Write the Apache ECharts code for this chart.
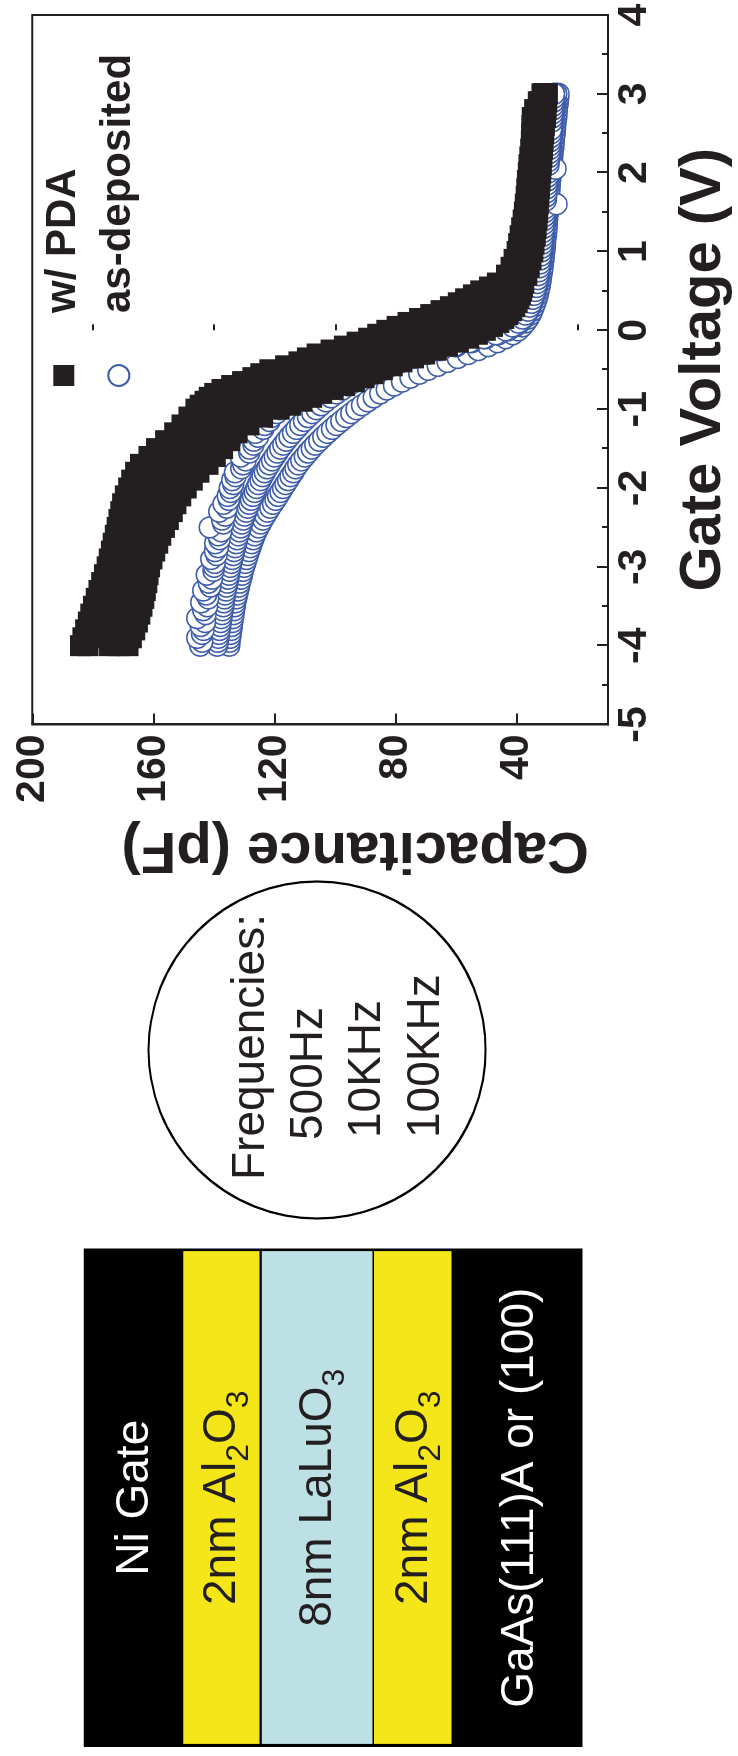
<!DOCTYPE html>
<html><head><meta charset="utf-8">
<script src="https://cdn.jsdelivr.net/npm/echarts@6/dist/echarts.min.js"></script>
<style>
html,body{margin:0;padding:0;background:#fff;width:738px;height:1756px;overflow:hidden;position:relative}
#chart{position:absolute;left:0;top:0;width:1756px;height:738px;transform-origin:0 0;transform:translate(0px,1756px) rotate(-90deg)}
</style></head><body>
<div id="chart"></div>
<script>
// ---------------- data ----------------
// w/ PDA (filled squares): gate voltage sweep and capacitance (pF) traces read across the black band
const voltSquares = [-4.0,-3.9,-3.8,-3.7,-3.6,-3.5,-3.4,-3.3,-3.2,-3.1,-3.0,-2.9,-2.8,-2.7,-2.6,-2.5,-2.4,-2.3,-2.2,-2.1,-2.0,-1.9,-1.8,-1.7,-1.6,-1.5,-1.4,-1.3,-1.2,-1.1,
-1.0,-0.95,-0.9,-0.85,-0.8,-0.75,-0.7,-0.65,-0.6,-0.55,-0.5,-0.45,-0.4,-0.35,-0.3,-0.25,-0.2,-0.15,-0.1,-0.05,0,0.05,0.1,0.15,0.2,0.25,0.3,0.35,0.4,0.45,0.5,0.55,0.6,
0.7,0.8,0.9,1.0,1.1,1.2,1.3,1.4,1.5,1.6,1.7,1.8,1.9,2.0,2.1,2.2,2.3,2.4,2.5,2.6,2.7,2.8,2.9,3.0];
const pda500Hz = [184.1,183.3,182.4,181.5,180.7,179.8,178.9,178.0,177.1,176.2,175.3,174.6,173.9,173.3,172.6,172.0,171.4,170.8,170.2,169.3,168.2,167.2,165.9,164.3,161.5,159.0,156.0,153.0,150.6,148.3,
146.0,144.6,143.0,141.6,139.8,137.4,134.2,130.6,127.2,124.6,121.6,116.4,112.0,109.2,106.0,101.4,97.0,92.8,89.0,86.0,83.0,79.6,76.0,72.2,68.5,65.1,62.0,59.4,57.0,54.4,52.0,49.1,46.5,
43.5,42.0,41.0,40.0,39.5,39.0,38.5,38.0,37.6,37.3,37.0,36.8,36.6,36.3,36.1,35.8,35.5,35.3,35.2,35.1,35.0,34.2,33.0,31.8];
const pda500HzB = [181.6,180.5,179.2,178.1,177.0,176.0,175.1,174.2,173.3,172.4,171.5,170.7,170.0,169.3,168.6,167.8,167.1,166.3,165.5,164.6,163.5,162.4,161.0,159.5,156.8,154.3,151.5,148.5,145.5,142.6,
139.2,137.2,135.0,132.8,130.4,127.5,124.3,121.0,117.6,114.5,111.3,107.2,103.0,99.6,96.2,92.1,88.0,84.1,80.2,77.0,74.0,70.6,67.2,63.9,60.7,57.8,55.2,53.0,51.0,49.1,47.2,45.3,43.6,
41.5,40.3,39.4,38.6,38.1,37.7,37.2,36.8,36.5,36.2,35.9,35.7,35.5,35.2,35.0,34.7,34.5,34.3,34.1,34.0,33.8,33.2,32.3,31.4];
const pda10kHz = [174.5,173.8,173.0,172.2,171.5,170.8,170.1,169.4,168.7,168.0,167.3,166.6,165.9,165.2,164.5,163.7,162.8,161.9,161.0,160.0,158.9,157.7,156.3,154.8,152.2,149.6,147.0,144.0,140.6,137.0,
132.5,129.8,127.0,124.0,121.0,117.8,114.5,111.2,108.0,104.5,101.0,97.5,94.0,90.2,86.5,82.7,79.0,75.2,71.5,68.2,65.0,61.7,58.5,55.7,53.0,50.7,48.5,46.7,45.0,43.7,42.5,41.6,40.8,
39.5,38.6,37.9,37.3,36.8,36.4,36.0,35.7,35.4,35.1,34.9,34.6,34.4,34.2,34.0,33.7,33.5,33.3,33.1,32.9,32.6,32.2,31.6,31.0];
const pda100kHzB = [171.4,170.5,169.6,168.7,168.0,167.3,166.6,166.0,165.4,164.9,164.3,163.5,162.7,161.9,161.0,160.0,158.9,157.8,156.8,155.5,154.0,152.4,150.6,148.4,145.9,143.4,140.9,138.2,134.5,130.5,
125.5,122.3,119.0,115.8,112.7,109.2,105.7,102.4,99.2,96.0,92.7,89.3,86.0,82.2,78.5,74.7,71.0,67.3,63.7,60.6,57.7,54.9,52.2,50.0,48.0,46.2,44.6,43.3,42.2,41.3,40.5,39.9,39.3,
38.2,37.3,36.6,36.0,35.6,35.2,34.8,34.5,34.3,34.0,33.8,33.6,33.4,33.2,33.0,32.7,32.5,32.3,32.1,31.9,31.6,31.3,30.9,30.5];
const pda100kHz = [168.4,167.3,166.2,165.3,164.5,163.8,163.2,162.7,162.2,161.8,161.3,160.5,159.6,158.6,157.6,156.4,155.1,153.8,152.6,151.0,149.2,147.2,145.0,142.0,139.6,137.2,134.8,132.4,128.5,124.0,
118.5,114.8,111.0,107.8,104.5,100.7,97.0,93.7,90.5,87.5,84.5,81.2,78.0,74.2,70.5,66.7,63.0,59.4,56.0,53.1,50.5,48.1,46.0,44.4,43.0,41.8,40.8,40.0,39.4,38.9,38.5,38.2,37.8,
36.8,36.0,35.4,34.8,34.4,34.0,33.7,33.4,33.2,33.0,32.8,32.6,32.4,32.2,32.0,31.8,31.6,31.4,31.2,31.0,30.6,30.4,30.2,30.0];

// as-deposited (open circles)
const voltCircles = [-4,-3.95,-3.9,-3.85,-3.8,-3.75,-3.7,-3.65,-3.6,-3.55,-3.5,-3.45,-3.4,-3.35,-3.3,-3.25,-3.2,-3.15,-3.1,-3.05,-3,-2.95,-2.9,-2.85,-2.8,-2.75,-2.7,-2.65,-2.6,-2.55,-2.5,-2.45,-2.4,-2.35,-2.3,-2.25,-2.2,-2.15,-2.1,-2.05,-2,-1.95,-1.9,-1.85,-1.8,-1.75,-1.7,-1.65,-1.6,-1.55,-1.5,-1.45,-1.4,-1.35,-1.3,-1.25,-1.2,-1.15,-1.1,-1.05,-1,-0.95,-0.9,-0.85,-0.8,-0.75,-0.7,-0.65,-0.6,-0.55,-0.5,-0.45,-0.4,-0.35,-0.3,-0.25,-0.2,-0.15,-0.1,-0.05,0,0.05,0.1,0.15,0.2,0.25,0.3,0.35,0.4,0.45,0.5,0.55,0.6,0.65,0.7,0.75,0.8,0.85,0.9,0.95,1,1.05,1.1,1.15,1.2,1.25,1.3,1.35,1.4,1.45,1.5,1.55,1.6,1.65,1.7,1.75,1.8,1.85,1.9,1.95,2,2.05,2.1,2.15,2.2,2.25,2.3,2.35,2.4,2.45,2.5,2.55,2.6,2.65,2.7,2.75,2.8,2.85,2.9,2.95,3];
const asd500Hz = [144.6,143.9,145.6,144.0,143.5,144.4,143.0,145.6,142.8,143.6,
142.3,144.2,141.9,142.6,143.6,141.2,141.8,140.7,142.4,140.2,
140.0,139.8,140.9,139.2,139.7,138.7,139.6,138.2,138.6,137.6,
141.4,137.0,137.4,136.4,138.3,135.8,136.9,135.1,135.5,134.5,
134.8,133.7,134.0,132.9,133.1,131.0,130.4,129.6,131.2,128.4,
128.3,127.0,126.9,125.5,126.4,123.8,123.3,121.7,121.0,119.3,
118.2,116.4,114.8,112.6,110.4,107.8,104.8,101.5,98.0,94.2,
90.0,85.6,81.0,76.0,71.0,65.8,60.6,55.6,51.0,47.0,
43.8,41.5,39.6,38.2,37.2,36.4,35.8,35.2,34.8,34.4,
34.0,33.7,33.4,33.2,33.0,32.8,32.6,32.4,32.3,32.1,
32.0,31.8,31.7,31.6,31.4,31.3,31.2,31.1,31.0,30.9,
30.8,30.7,27.0,30.5,30.4,30.3,30.2,30.1,30.0,29.9,
29.8,27.3,29.6,29.5,29.4,29.3,29.2,29.1,29.0,28.9,
28.8,28.7,33.8,28.5,28.4,28.3,28.2,28.1,28.0,27.9,
27.8];
const asd10kHz = [139.0,138.8,138.6,138.4,138.2,138.0,137.8,137.6,137.4,137.2,
137.0,136.8,136.6,136.4,136.1,135.9,135.6,135.4,135.1,134.9,
134.6,134.3,134.0,133.7,133.4,133.1,132.7,132.4,132.0,131.6,
131.2,130.8,130.4,129.9,129.4,128.9,128.4,127.8,127.2,126.6,
126.0,125.4,124.7,124.0,123.3,122.5,121.7,120.9,120.0,119.1,
118.2,117.2,116.2,115.1,114.0,112.8,111.6,110.3,109.0,107.6,
106.2,104.7,103.1,101.4,99.6,97.7,95.6,93.3,90.8,88.1,
85.1,81.8,78.2,74.2,69.8,65.0,60.0,55.0,50.3,46.2,
43.0,40.7,39.0,37.8,36.9,36.2,35.6,35.1,34.6,34.2,
33.8,33.5,33.2,33.0,32.8,32.6,32.4,32.2,32.1,31.9,
31.8,31.6,31.5,31.4,31.2,31.1,31.0,30.9,30.8,30.7,
30.6,30.5,30.4,30.3,30.2,30.1,30.0,29.9,29.8,29.7,
29.6,29.5,29.4,29.3,29.1,29.0,28.9,28.8,28.7,28.6,
28.4,28.3,28.2,28.1,27.9,27.8,27.7,27.5,27.4,27.2,
27.1];
const asd100kHz = [135.0,134.9,134.7,134.5,134.3,134.2,134.0,133.8,133.6,133.4,
133.2,133.0,132.7,132.4,132.1,131.8,131.5,131.1,130.8,130.5,
130.1,129.7,129.3,128.9,128.5,128.0,127.6,127.1,126.6,126.0,
125.3,124.6,123.9,123.1,122.3,121.5,120.6,119.7,118.9,118.1,
117.3,116.4,115.6,114.8,113.9,113.1,112.2,111.2,110.1,109.0,
107.8,106.6,105.3,104.0,102.6,101.1,99.6,98.0,96.4,94.7,
93.0,91.2,89.3,87.3,85.2,83.0,80.6,78.0,75.2,72.3,
69.3,66.2,63.0,59.6,56.2,52.8,49.5,46.5,43.8,41.4,
39.6,38.3,37.2,36.3,35.6,35.0,34.5,34.0,33.6,33.2,
32.9,32.6,32.4,32.2,32.0,31.8,31.6,31.5,31.3,31.2,
31.0,30.9,30.8,30.7,30.5,30.4,30.3,30.2,30.1,30.0,
29.9,29.8,29.7,29.6,29.5,29.4,29.3,29.2,29.1,29.0,
28.9,28.8,28.6,28.5,28.4,28.3,28.1,28.0,27.9,27.8,
27.6,27.5,27.4,27.3,27.1,27.0,26.9,26.7,26.6,26.4,
26.3];

const capLabelTicks = [40, 80, 120, 160, 200];
const capMinorTicks = [20, 60, 100, 140, 180];
const seriesNames = ['w/ PDA', 'as-deposited'];
const axisTitles = ['Gate Voltage (V)', 'Capacitance (pF)'];
const freqTitle = 'Frequencies:';
const freqList = ['500Hz', '10KHz', '100KHz'];
const layerLabels = ['Ni Gate', '2nm Al{s|2}O{s|3}', '8nm LaLuO{s|3}', '2nm Al{s|2}O{s|3}', 'GaAs(111)A or (100)'];

// ---------------- chart ----------------
const INK = '#231f20';
const BLUE = '#3d5ca9';
const FONT = '"Liberation Sans", Arial, Helvetica, sans-serif';
const pair = (xs, ys) => xs.map((x, i) => [x, ys[i]]);

const sq = (name, vs, cs) => ({
  type: 'scatter', name, data: pair(vs, cs), symbol: 'rect', symbolSize: 21,
  itemStyle: { color: INK, opacity: 1 }, z: 4, silent: true, emphasis: { disabled: true }
});
const ci = (name, vs, cs) => ({
  type: 'scatter', name, data: pair(vs, cs), symbol: 'circle', symbolSize: 21,
  itemStyle: { color: '#ffffff', borderColor: BLUE, borderWidth: 1.5, opacity: 1 }, z: 3, silent: true, emphasis: { disabled: true }
});

// diagram geometry (landscape frame; page is rotated)
const stackX = 9, stackW = 498.5;
const bands = [
  { y: 83.8, h: 98.8, fill: '#000000', text: '#ffffff', ty: 135.5 },
  { y: 182.6, h: 77.6, fill: '#f4e619', text: INK, ty: 222 },
  { y: 261.2, h: 111.8, fill: '#bde0e4', text: INK, ty: 318.5 },
  { y: 373.5, h: 78.5, fill: '#f4e619', text: INK, ty: 414.5 },
  { y: 452, h: 130.6, fill: '#000000', text: '#ffffff', ty: 520 }
];
const graphics = [];
graphics.push({ type: 'rect', shape: { x: stackX, y: 83.8, width: stackW, height: 498.8 }, style: { fill: '#000' } });
bands.forEach((b, i) => {
  if (b.fill !== '#000000') {
    graphics.push({ type: 'rect', shape: { x: stackX + 2.5, y: b.y, width: stackW - 4.5, height: b.h }, style: { fill: b.fill, stroke: '#000', lineWidth: 1.2 } });
  }
  graphics.push({ type: 'text', x: stackX + stackW / 2, y: b.ty, style: {
    text: layerLabels[i], fill: b.text, fontSize: 46, fontFamily: FONT, align: 'center', verticalAlign: 'middle',
    rich: { s: { fontSize: 32, fill: b.text, fontFamily: FONT, padding: [34, 0, 0, 0] } }
  }});
});
graphics.push({ type: 'circle', shape: { cx: 706, cy: 317, r: 168.5 }, style: { fill: 'none', stroke: '#000', lineWidth: 2.2 } });
graphics.push({ type: 'text', x: 576, y: 251.5, style: { text: freqTitle, fill: INK, fontSize: 46, fontFamily: FONT, align: 'left', verticalAlign: 'middle' } });
const freqPos = [[616, 309.5], [618, 367], [618, 426]];
freqList.forEach((f, i) => graphics.push({ type: 'text', x: freqPos[i][0], y: freqPos[i][1], style: { text: f, fill: INK, fontSize: 46, fontFamily: FONT, align: 'left', verticalAlign: 'middle' } }));

const lineStyle = { color: INK, width: 2 };
const option = {
  animation: false,
  backgroundColor: '#ffffff',
  textStyle: { fontFamily: FONT },
  grid: { left: 1031.5, right: 15, top: 32.3, bottom: 129.7, show: true, borderColor: INK, borderWidth: 2, containLabel: false },
  legend: {
    orient: 'vertical', left: 1364, top: 37.8, itemWidth: 21, itemHeight: 21, itemGap: 13,
    data: seriesNames, selectedMode: false,
    textStyle: { fontSize: 42, fontWeight: 'bold', color: INK, fontFamily: FONT, lineHeight: 42, padding: [0, 0, 0, 47] }
  },
  xAxis: {
    type: 'value', min: -5, max: 4, interval: 1, position: 'bottom',
    axisLine: { show: true, onZero: false, lineStyle },
    axisTick: { show: true, inside: true, length: 11, lineStyle },
    minorTick: { show: true, splitNumber: 2, length: 6, lineStyle },
    splitLine: { show: false },
    axisLabel: { fontSize: 41, fontWeight: 'bold', color: INK, fontFamily: FONT, margin: 6 },
    name: axisTitles[0], nameLocation: 'middle', nameGap: 67,
    nameTextStyle: { fontSize: 58, fontWeight: 'bold', color: INK, fontFamily: FONT }
  },
  yAxis: [{
    type: 'value', min: 10, max: 200, position: 'left',
    axisLine: { show: true, onZero: false, lineStyle },
    axisTick: { show: true, inside: true, length: 11, lineStyle, customValues: capLabelTicks },
    splitLine: { show: false },
    axisLabel: { fontSize: 41, fontWeight: 'bold', color: INK, fontFamily: FONT, margin: 10, customValues: capLabelTicks },
    name: axisTitles[1], nameLocation: 'middle', nameGap: 96,
    nameTextStyle: { fontSize: 58, fontWeight: 'bold', color: INK, fontFamily: FONT, padding: [0, 70, 0, 0] }
  }, {
    type: 'value', min: 10, max: 200, position: 'left',
    axisLine: { show: false },
    axisTick: { show: true, inside: true, length: 6, lineStyle, customValues: capMinorTicks },
    axisLabel: { show: false }, splitLine: { show: false }
  }],
  series: [
    ci(seriesNames[1], voltCircles, asd100kHz),
    ci(seriesNames[1], voltCircles, asd10kHz),
    ci(seriesNames[1], voltCircles, asd500Hz),
    sq(seriesNames[0], voltSquares, pda100kHz),
    sq(seriesNames[0], voltSquares, pda100kHzB),
    sq(seriesNames[0], voltSquares, pda10kHz),
    sq(seriesNames[0], voltSquares, pda500HzB),
    sq(seriesNames[0], voltSquares, pda500Hz)
  ],
  graphic: { elements: graphics }
};
const chart = echarts.init(document.getElementById('chart'), null, { renderer: 'canvas' });
chart.setOption(option);
</script>
</body></html>
